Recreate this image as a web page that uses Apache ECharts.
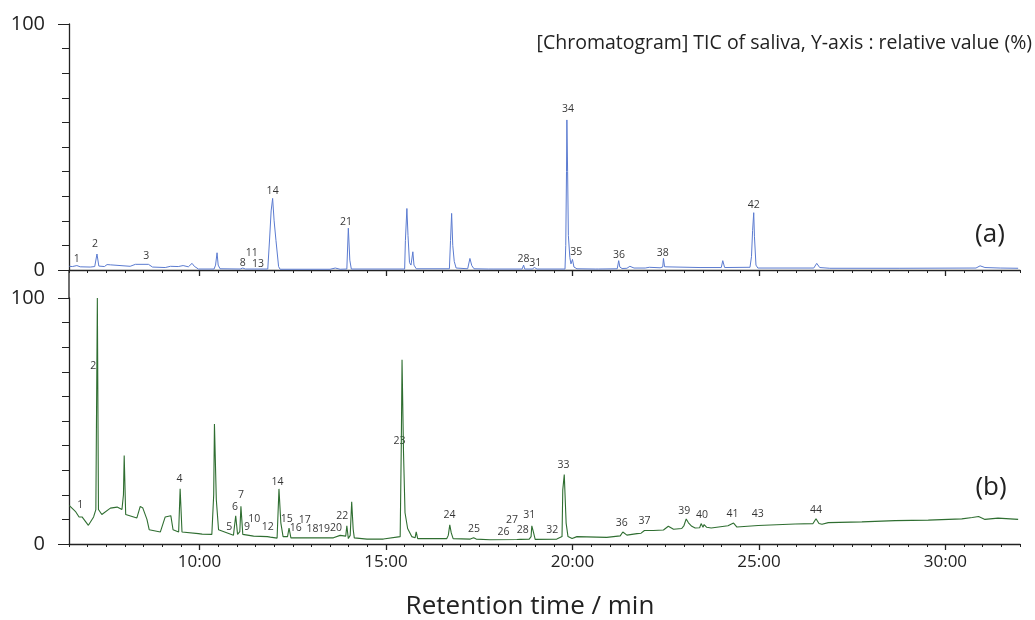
<!DOCTYPE html>
<html>
<head>
<meta charset="utf-8">
<script src="https://cdn.jsdelivr.net/npm/echarts@6/dist/echarts.min.js"></script>
<style>
html, body { margin: 0; padding: 0; background: #fff; }
#chart { width: 1035px; height: 620px; }
</style>
</head>
<body>
<div id="chart"></div>
<script>
// (a) blue trace: retention time (min) / relative value (%)
var timeA = [6.51,6.59,6.71,6.80,7.07,7.19,7.25,7.30,7.45,7.52,
    7.56,7.61,7.66,8.14,8.28,8.63,8.74,9.08,9.22,9.43,
    9.56,9.70,9.80,9.86,9.91,9.97,10.39,10.43,10.47,10.50,
    10.55,11.09,11.16,11.23,11.83,11.88,11.92,11.96,12.00,12.05,
    12.12,12.16,13.50,13.64,13.77,13.95,13.99,14.03,14.07,15.50,
    15.52,15.56,15.59,15.63,15.67,15.72,15.75,15.81,16.70,16.73,
    16.76,16.79,16.83,16.88,17.19,17.25,17.30,17.36,17.74,17.79,
    17.87,18.65,18.69,18.72,18.92,18.98,19.05,19.80,19.82,19.84,
    19.85,19.87,19.89,19.93,19.96,20.00,20.04,20.12,20.61,20.65,
    20.70,21.20,21.24,21.27,21.33,21.46,21.54,21.65,21.95,22.06,
    22.35,22.42,22.44,22.47,22.51,23.42,23.99,24.03,24.08,24.76,
    24.80,24.83,24.86,24.88,24.92,24.97,26.47,26.55,26.63,26.90,
    28.78,30.82,30.93,31.06,31.47,31.95];
var valueA = [1.5,1.4,1.8,1.3,1.2,1.4,6.5,1.6,1.4,2.2,
    1.4,2.1,1.4,1.5,2.3,2.3,1.2,1.0,1.5,1.4,
    1.8,1.3,2.7,1.5,1.9,0.4,0.4,2.0,7.0,2.0,
    0.5,0.4,0.8,0.4,0.4,13,24,29.1,20,12,
    1.4,0.3,0.3,0.8,0.3,0.4,17,4,0.4,0.4,
    12,25,14,3,2,7.4,2,0.5,0.5,12,
    23,10,3.5,0.8,0.5,4.7,1.8,0.5,0.4,0.8,
    0.4,0.4,2.0,0.4,0.4,1.0,0.4,0.4,10,40,
    61,40,14,5,2.5,4.3,1.2,0.5,0.4,0.8,
    0.4,0.5,3.8,1.2,0.6,0.7,1.5,0.8,0.8,1.1,
    0.9,1.2,4.7,1.3,0.9,1.0,1.0,3.8,1.0,1.1,
    5.4,16,23.3,13.5,2,0.8,0.8,2.7,1.0,0.7,
    0.7,0.8,1.7,1.0,0.8,0.7];

// (b) green trace
var timeB = [6.51,6.67,6.77,6.85,7.02,7.16,7.22,7.26,7.29,7.38,
    7.61,7.79,7.92,7.96,7.98,8.02,8.32,8.41,8.48,8.59,
    8.65,8.95,9.08,9.23,9.29,9.44,9.48,9.53,9.97,10.02,
    10.07,10.33,10.38,10.40,10.45,10.51,10.91,10.97,11.02,11.08,
    11.11,11.16,11.45,11.82,11.85,11.90,12.08,12.13,12.18,12.24,
    12.36,12.40,12.45,13.59,13.77,13.92,13.95,13.99,14.04,14.08,
    14.12,14.15,14.49,14.93,15.38,15.41,15.43,15.47,15.51,15.58,
    15.69,15.78,15.81,15.85,16.63,16.67,16.71,16.75,16.80,17.26,
    17.35,17.42,17.79,18.51,18.54,18.60,18.84,18.89,18.91,18.95,
    19.00,19.58,19.72,19.74,19.78,19.83,19.88,19.99,20.12,20.15,
    20.92,21.28,21.35,21.46,21.73,21.84,21.93,21.98,22.17,22.44,
    22.57,22.71,22.93,22.99,23.05,23.11,23.20,23.29,23.41,23.45,
    23.50,23.53,23.60,23.72,24.17,24.25,24.32,24.41,24.98,25.97,
    26.45,26.53,26.61,26.69,26.86,27.76,28.65,29.54,30.44,30.72,
    30.89,31.06,31.41,31.95];
var valueB = [15.6,13.3,11,11,7.6,11,14,100,14,12,
    14.6,15,14,20,36,12,10.6,15.3,14.6,10,
    5.8,4.9,11,11.5,5.8,4.9,22.5,4.9,4.2,4.6,
    4.0,3.9,20,48.8,18,5.8,3.6,11.5,3.9,5,
    15.3,3.9,3.2,3.0,3.4,2.8,2.4,22.4,8.6,3.0,
    3.0,6.5,2.5,2.5,3.5,3.2,7.4,2.2,3.5,17.2,
    6,2.5,2.0,2.0,3.0,40,74.9,37,12.7,6.3,
    3.0,2.5,4.9,2.2,2.2,3.5,7.8,4.5,2.2,2.0,
    2.5,2.0,1.7,1.8,2.2,1.9,2.0,3,7.4,5,
    1.9,2.0,3,22,28.2,8.5,3,2.2,3.0,2.2,
    2.7,3.3,4.9,3.6,4.2,4.4,5.5,4.8,5.5,5.7,
    7.2,6.0,6.3,7.5,10.2,8.6,7.2,6.5,6.6,8.3,
    6.8,7.9,6.8,6.5,7.4,8.0,8.5,6.9,7.5,8.1,
    8.3,10.3,8.3,8.0,8.7,9.0,9.5,9.7,10.2,10.8,
    11.2,10.0,10.5,10.0];

// peak numbers and where they are written
var peakNoA = ['1','2','3','8','11','13','14','21','28','31','34','35','36','38','42'];
var peakTimeA = [6.71,7.20,8.57,11.16,11.40,11.57,11.96,13.93,18.69,19.00,19.88,20.10,21.25,22.42,24.86];
var peakYA = [4.3,10.6,5.7,3.0,6.8,2.4,32.2,19.6,4.3,2.7,65.4,7.4,6.1,7.0,26.4];

var peakNoB = ['1','2','4','5','6','7','9','10','12','14','15','16','17','18','19','20','22',
    '23','24','25','26','27','28','31','32','33','36','37','39','40','41','43','44'];
var peakTimeB = [6.80,7.15,9.46,10.80,10.95,11.11,11.27,11.47,11.83,12.09,12.34,12.58,12.82,13.03,13.34,13.66,13.83,
    15.36,16.70,17.36,18.15,18.38,18.67,18.84,19.46,19.76,21.32,21.93,23.00,23.47,24.29,24.97,26.53];
var peakYB = [16.0,72.5,26.5,7.0,15.2,19.8,7.0,10.3,7.0,25.4,10.3,6.7,9.9,6.2,6.2,6.6,11.2,
    41.9,11.6,6.1,4.9,9.9,5.8,11.9,5.8,32.0,8.5,9.5,13.5,11.9,12.3,12.3,13.7];

var majorTicks = [10, 15, 20, 25, 30];
var yEnds = [0, 100];

var FONT = '"Open Sans", "Noto Sans", sans-serif';
var AXIS = '#222';

function pairs(t, v) {
    return t.map(function (x, i) { return [x, v[i]]; });
}
function labels(no, t, v) {
    return no.map(function (s, i) { return { name: s, value: [t[i], v[i]] }; });
}

function xAxes(grid, withLabels) {
    return [{
        gridIndex: grid, type: 'value', position: 'bottom', min: 6.5, max: 32, interval: 0.5,
        axisLine: { show: true, onZero: false, lineStyle: { color: AXIS, width: 1.3 } },
        axisTick: { show: true, length: 3, lineStyle: { color: AXIS } },
        splitLine: { show: false },
        axisLabel: {
            show: withLabels, fontSize: 17, fontFamily: FONT, color: '#222', margin: 10,
            formatter: function (v) { return v % 5 === 0 ? v + ':00' : ''; }
        }
    }, {
        // longer ticks at every 5 minutes
        gridIndex: grid, type: 'value', position: 'bottom', min: 6.5, max: 32, interval: 0.5,
        axisLine: { show: false, onZero: false },
        axisTick: { show: true, length: 6, customValues: majorTicks, lineStyle: { color: AXIS, width: 1.3 } },
        splitLine: { show: false },
        axisLabel: { show: false }
    }];
}

function yAxes(grid) {
    return [{
        gridIndex: grid, type: 'value', position: 'left', min: 0, max: 100, interval: 10,
        axisLine: { show: true, onZero: false, lineStyle: { color: AXIS, width: 1.3 } },
        axisTick: { show: true, length: 7, lineStyle: { color: AXIS } },
        splitLine: { show: false },
        axisLabel: {
            fontSize: 20, fontFamily: FONT, color: '#222', margin: 24,
            formatter: function (v) { return (v === 0 || v === 100) ? String(v) : ''; }
        }
    }, {
        gridIndex: grid, type: 'value', position: 'left', min: 0, max: 100, interval: 10,
        axisLine: { show: false, onZero: false },
        axisTick: { show: true, length: 11, customValues: yEnds, lineStyle: { color: AXIS } },
        splitLine: { show: false },
        axisLabel: { show: false }
    }];
}

var peakLabel = {
    show: true, position: 'inside', formatter: '{b}',
    fontSize: 10.5, fontFamily: FONT, color: '#000', textBorderWidth: 0
};

var option = {
    animation: false,
    backgroundColor: '#fff',
    grid: [
        { left: 69, right: 15, top: 24, height: 246 },
        { left: 69, right: 15, top: 298, height: 246 }
    ],
    xAxis: xAxes(0, false).concat(xAxes(1, true)),
    yAxis: yAxes(0).concat(yAxes(1)),
    series: [{
        name: '(a)', type: 'line', xAxisIndex: 0, yAxisIndex: 0,
        data: pairs(timeA, valueA), showSymbol: false,
        lineStyle: { color: '#5b7bd0', width: 1 }
    }, {
        name: '(b)', type: 'line', xAxisIndex: 2, yAxisIndex: 2,
        data: pairs(timeB, valueB), showSymbol: false,
        lineStyle: { color: '#2f6e31', width: 1.1 }
    }, {
        type: 'scatter', xAxisIndex: 0, yAxisIndex: 0, symbolSize: 1,
        itemStyle: { color: 'rgba(0,0,0,0)' }, label: peakLabel,
        data: labels(peakNoA, peakTimeA, peakYA)
    }, {
        type: 'scatter', xAxisIndex: 2, yAxisIndex: 2, symbolSize: 1,
        itemStyle: { color: 'rgba(0,0,0,0)' }, label: peakLabel,
        data: labels(peakNoB, peakTimeB, peakYB)
    }],
    graphic: [{
        type: 'line', shape: { x1: 69, y1: 270, x2: 69, y2: 298 },
        style: { stroke: AXIS, lineWidth: 1.3 }
    }, {
        type: 'text', x: 1032, y: 43,
        style: { text: '[Chromatogram] TIC of saliva, Y-axis : relative value (%)',
            font: '19.5px ' + FONT, fill: '#222', textAlign: 'right', textVerticalAlign: 'middle' }
    }, {
        type: 'text', x: 990, y: 235,
        style: { text: '(a)', font: '26px ' + FONT, fill: '#222', textAlign: 'center', textVerticalAlign: 'middle' }
    }, {
        type: 'text', x: 991, y: 488,
        style: { text: '(b)', font: '26px ' + FONT, fill: '#222', textAlign: 'center', textVerticalAlign: 'middle' }
    }, {
        type: 'text', x: 530, y: 607,
        style: { text: 'Retention time / min', font: '26px ' + FONT, fill: '#222', textAlign: 'center', textVerticalAlign: 'middle' }
    }]
};

var myChart = echarts.init(document.getElementById('chart'));
myChart.setOption(option);
</script>
</body>
</html>
